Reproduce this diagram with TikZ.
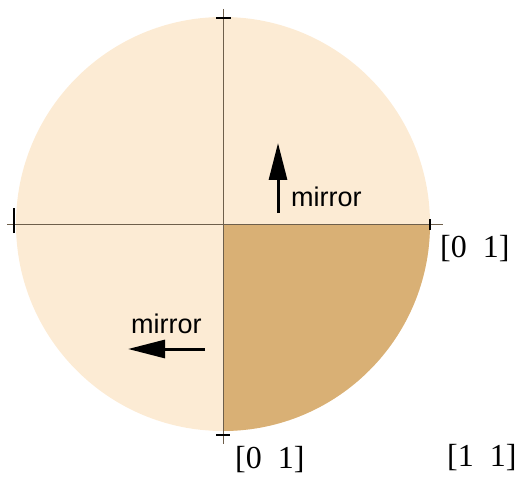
\documentclass[tikz,border=0pt]{standalone}
\usepackage{fontspec}
\setmainfont{Liberation Serif}
\setsansfont{Liberation Sans}
\usetikzlibrary{arrows.meta}
\definecolor{lighttan}{RGB}{252,235,212}
\definecolor{darktan}{RGB}{217,176,117}
\definecolor{axiscol}{RGB}{110,95,75}
\tikzset{
  axisline/.style={draw=axiscol, line width=0.9pt},
  tickline/.style={draw=black, line width=1.1pt},
  vec/.style={line width=3pt, -{Triangle[length=37pt,width=18pt]}},
  matlabel/.style={font=\fontsize{32}{34}\selectfont, anchor=base west, inner sep=0pt},
  mirlabel/.style={font=\sffamily\fontsize{27}{29}\selectfont, anchor=base west, inner sep=0pt},
}
\begin{document}
\begin{tikzpicture}[x=1pt,y=1pt]
\useasboundingbox (0,0) rectangle (521,477);
\coordinate (c) at (223,253);
% disc
\fill[lighttan] (c) circle[radius=207];
\fill[darktan] (c) -- ++(207,0) arc[start angle=0, end angle=-90, radius=207] -- cycle;
% axes
\coordinate (top) at (223,468);
\coordinate (bot) at (223,33);
\coordinate (lft) at (7,253);
\coordinate (rgt) at (443,253);
\draw[axisline] (top) -- (bot);
\draw[axisline] (lft) -- (rgt);
% ticks
\draw[tickline] (216,459) -- (231,459);
\draw[tickline] (216,42) -- (230,42);
\draw[tickline] (14,244) -- (14,269);
\draw[tickline] (430,247) -- (430,258);
% labels
\node[matlabel] (r01) at (440,220) {[0\hspace{16pt}1]};
\node[matlabel] (b01) at (235,9) {[0\hspace{16pt}1]};
\node[matlabel] (b11) at (447,11) {[1\hspace{16pt}1]};
% mirror arrows
\coordinate (ua) at (278,264);
\coordinate (ub) at (278,334);
\draw[vec] (ua) -- (ub);
\node[mirlabel] (m1) at (291,270) {mirror};
\coordinate (la) at (205,128);
\coordinate (lb) at (128,128);
\draw[vec] (la) -- (lb);
\node[mirlabel] (m2) at (131,144) {mirror};
\end{tikzpicture}
\end{document}
